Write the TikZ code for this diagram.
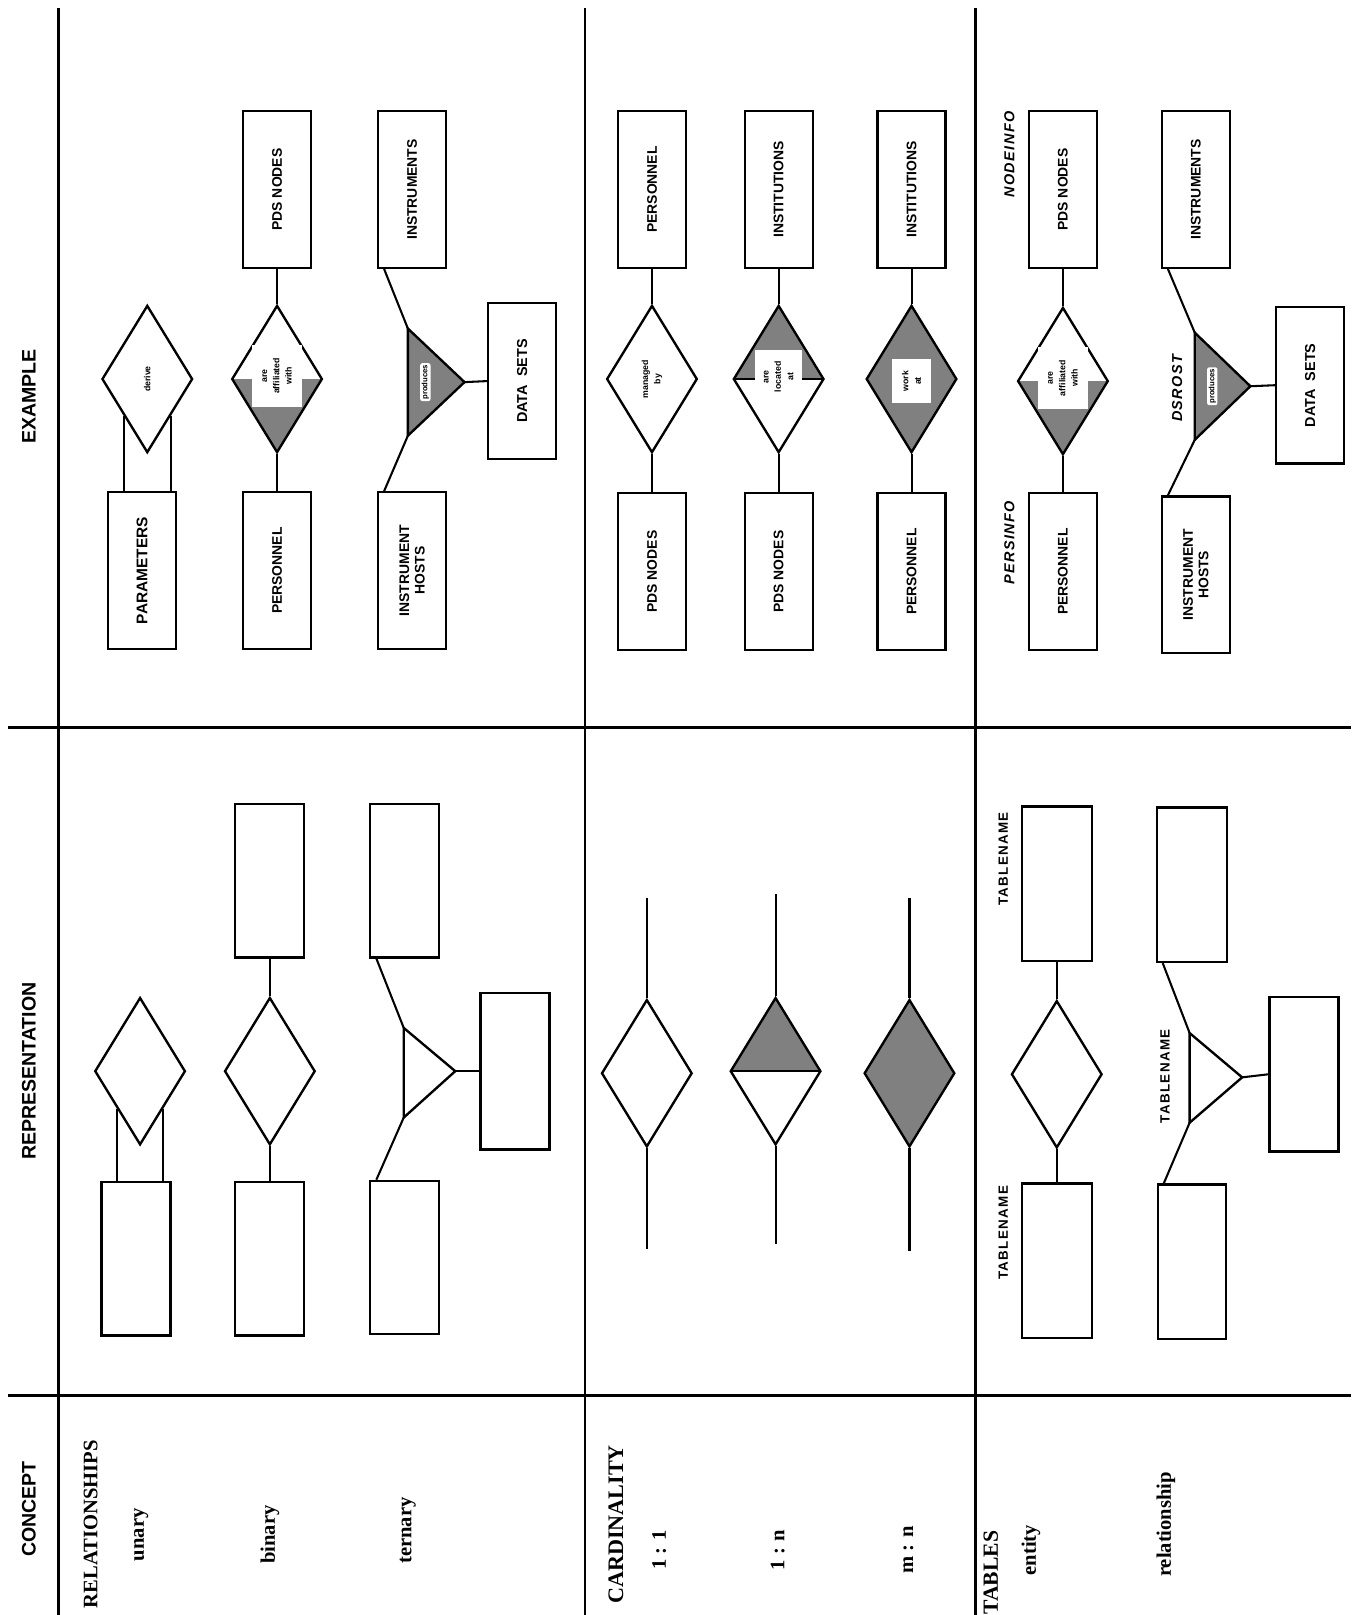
\documentclass[tikz,border=0pt]{standalone}
\usepackage{fontspec}
\setmainfont{Liberation Serif}
\newfontfamily\hvf{Liberation Sans}
\newfontfamily\hvls{Liberation Sans}[LetterSpace=10]
\usetikzlibrary{shapes.geometric,calc}
\begin{document}
\begin{tikzpicture}[x=1pt,y=-1pt,
  gridline/.style={line width=2.8pt},
  conn/.style={line width=2pt},
  outl/.style={line width=2.3pt, line join=miter},
  shd/.style={fill=black!50},
  ent/.style={draw, line width=2.2pt, fill=white, rotate=90, inner sep=0pt, align=center,
      font=\hvf\bfseries\fontsize{13.5}{15}\selectfont},
  exbox/.style={ent, minimum width=152pt, minimum height=66pt},
  repbox/.style={ent, minimum width=149pt, minimum height=67pt},
  rel/.style={draw, diamond, line width=2.3pt, inner sep=0pt, minimum width=88pt, minimum height=143pt},
  lowshade/.style={path picture={\fill[shd] (path picture bounding box.west) -- (path picture bounding box.south) -- (path picture bounding box.east) -- cycle;}},
  upshade/.style={path picture={\fill[shd] (path picture bounding box.west) -- (path picture bounding box.north) -- (path picture bounding box.east) -- cycle;
      \draw[line width=2.2pt] (path picture bounding box.west) -- (path picture bounding box.east);}},
  fullshade/.style={fill=black!50},
  rlbl/.style={rotate=90, inner sep=2pt, align=center, font=\hvf\bfseries\fontsize{8.5}{12}\selectfont},
  wlbl/.style={rlbl, fill=white},
  prodlbl/.style={rlbl, fill=white, rounded corners=2pt, inner sep=1.5pt, font=\hvf\bfseries\fontsize{7.5}{8}\selectfont},
  head/.style={rotate=90, inner sep=0pt, font=\hvf\bfseries\fontsize{19}{21}\selectfont},
  concept/.style={rotate=90, inner sep=0pt, font=\bfseries\fontsize{20}{22}\selectfont},
  tname/.style={rotate=90, inner sep=0pt, font=\hvls\bfseries\fontsize{13}{15}\selectfont},
  iname/.style={rotate=90, inner sep=0pt, font=\hvls\bfseries\itshape\fontsize{14}{16}\selectfont},
]
\useasboundingbox (0,0) rectangle (1315,1568);
\fill[white] (0,0) rectangle (1315,1568);

% grid
\draw[gridline] (57,8) -- (57,1568);
\draw[gridline] (568,8) -- (568,1568);
\draw[gridline] (947,8) -- (947,1568);
\draw[gridline] (8,706) -- (1312,706);
\draw[gridline] (8,1355) -- (1312,1355);

% headers
\node[head] (hEx) at (28,385) {EXAMPLE};
\node[head] (hRep) at (28,1040) {REPRESENTATION};
\node[head] (hCon) at (28,1465) {CONCEPT};

% concept column
\node[concept] (cRel) at (88,1480) {RELATIONSHIPS};
\node[concept] (cUn) at (137,1490) {unary};
\node[concept] (cBin) at (262,1490) {binary};
\node[concept] (cTer) at (396,1486) {ternary};
\node[concept, font=\bfseries\fontsize{21.5}{23}\selectfont] (cCard) at (598,1480) {CARDINALITY};
\node[concept] (c11l) at (640,1505) {1 : 1};
\node[concept] (c1nl) at (755,1505) {1 : n};
\node[concept] (cmnl) at (882,1505) {m : n};
\node[concept, font=\bfseries\fontsize{21}{23}\selectfont] (cTab) at (962,1527) {TABLES};
\node[concept] (cEnt) at (1001,1505) {entity};
\node[concept] (cRelship) at (1132,1480) {relationship};

% ===== EXAMPLE: relationships =====
% unary
\node[exbox, font=\hvf\bfseries\fontsize{15}{17}\selectfont] (eParam) at (138,554) {PARAMETERS};
\node[rel] (eDer) at (143,368) {};
\node[rlbl] (eDerL) at (eDer) {derive};
\draw[conn] (eDer.south west) -- (eDer.south west |- eParam.east);
\draw[conn] (eDer.south east) -- (eDer.south east |- eParam.east);
% binary
\node[exbox] (ePDS1) at (269,184) {PDS NODES};
\node[rel, lowshade] (eAff1) at (269,368) {};
\node[wlbl, minimum width=60pt, minimum height=48pt] (eAff1L) at (269,365) {are\\affiliated\\with};
\node[exbox] (ePers1) at (269,554) {PERSONNEL};
\draw[conn] (ePDS1.west) -- (eAff1.north);
\draw[conn] (eAff1.south) -- (ePers1.east);
% ternary
\node[exbox] (eInst1) at (400,184) {INSTRUMENTS};
\node[exbox] (eHosts1) at (400,554) {INSTRUMENT\\HOSTS};
\node[ent, minimum width=151pt, minimum height=66pt, font=\hvf\bfseries\fontsize{14}{16}\selectfont] (eData1) at (507,370) {DATA\ \ SETS};
\coordinate (eT1a) at (396,319);
\coordinate (eT1b) at (396,423);
\coordinate (eT1c) at (451,371);
\filldraw[outl, shd] (eT1a) -- (eT1c) -- (eT1b) -- cycle;
\node[prodlbl] (eProd1) at (413,371) {produces};
\draw[conn] ($(eInst1.north west)+(7,0)$) -- (eT1a);
\draw[conn] (eT1b) -- ($(eHosts1.north east)+(7,0)$);
\draw[conn] (eT1c) -- (eData1.north);

% ===== EXAMPLE: cardinality =====
\node[exbox] (ePers2) at (633,184) {PERSONNEL};
\node[rel] (eMgr) at (633,368) {};
\node[rlbl] (eMgrL) at (eMgr) {managed\\by};
\node[exbox] (ePDS2) at (633,555) {PDS NODES};
\draw[conn] (ePers2.west) -- (eMgr.north);
\draw[conn] (eMgr.south) -- (ePDS2.east);

\node[exbox] (eInstit1) at (756,184) {INSTITUTIONS};
\node[rel, upshade] (eLoc) at (756,368) {};
\node[wlbl, minimum width=52pt, minimum height=46pt] (eLocL) at (756,366) {are\\located\\at};
\node[exbox] (ePDS3) at (756,555) {PDS NODES};
\draw[conn] (eInstit1.west) -- (eLoc.north);
\draw[conn] (eLoc.south) -- (ePDS3.east);

\node[exbox] (eInstit2) at (885,184) {INSTITUTIONS};
\node[rel, fullshade] (eWork) at (885,368) {};
\node[wlbl, minimum width=42pt, minimum height=38pt] (eWorkL) at (885,370) {work\\at};
\node[exbox] (ePers3) at (885,555) {PERSONNEL};
\draw[conn] (eInstit2.west) -- (eWork.north);
\draw[conn] (eWork.south) -- (ePers3.east);

% ===== EXAMPLE: tables =====
\node[iname] (eNodeInfo) at (980,150) {NODEINFO};
\node[iname] (ePersInfo) at (980,527) {PERSINFO};
\node[exbox] (ePDS4) at (1032,184) {PDS NODES};
\node[rel, lowshade] (eAff2) at (1032,370) {};
\node[wlbl, minimum width=60pt, minimum height=48pt] (eAff2L) at (1032,367) {are\\affiliated\\with};
\node[exbox] (ePers4) at (1032,555) {PERSONNEL};
\draw[conn] (ePDS4.west) -- (eAff2.north);
\draw[conn] (eAff2.south) -- (ePers4.east);

\node[exbox] (eInst2) at (1161,184) {INSTRUMENTS};
\node[exbox] (eHosts2) at (1161,558) {INSTRUMENT\\HOSTS};
\node[ent, minimum width=152pt, minimum height=66pt, font=\hvf\bfseries\fontsize{14}{16}\selectfont] (eData2) at (1272,374) {DATA\ \ SETS};
\coordinate (eT2a) at (1160,323);
\coordinate (eT2b) at (1160,427);
\coordinate (eT2c) at (1214,375);
\filldraw[outl, shd] (eT2a) -- (eT2c) -- (eT2b) -- cycle;
\node[prodlbl] (eProd2) at (1177,375) {produces};
\node[iname] (eDsrost) at (1143,377) {DSROST};
\draw[conn] ($(eInst2.north west)+(7,0)$) -- (eT2a);
\draw[conn] (eT2b) -- ($(eHosts2.north east)+(7,0)$);
\draw[conn] (eT2c) -- (eData2.north);

% ===== REPRESENTATION: relationships =====
\node[repbox] (rUnE) at (132,1222) {};
\node[rel] (rUnD) at (136,1040) {};
\draw[conn] (rUnD.south west) -- (rUnD.south west |- rUnE.east);
\draw[conn] (rUnD.south east) -- (rUnD.south east |- rUnE.east);

\node[repbox] (rBinT) at (262,855) {};
\node[rel] (rBinD) at (262,1040) {};
\node[repbox] (rBinB) at (262,1222) {};
\draw[conn] (rBinT.west) -- (rBinD.north);
\draw[conn] (rBinD.south) -- (rBinB.east);

\node[repbox] (rTerT) at (393,855) {};
\node[repbox] (rTerB) at (393,1221) {};
\node[ent, minimum width=152pt, minimum height=67pt] (rTerData) at (500,1040) {};
\coordinate (rT1a) at (392,998);
\coordinate (rT1b) at (392,1085);
\coordinate (rT1c) at (442,1040);
\draw[outl] (rT1a) -- (rT1c) -- (rT1b) -- cycle;
\draw[conn] ($(rTerT.north west)+(7,0)$) -- (rT1a);
\draw[conn] (rT1b) -- ($(rTerB.north east)+(7,0)$);
\draw[conn] (rT1c) -- (rTerData.north);

% ===== REPRESENTATION: cardinality =====
\node[rel] (c11) at (628,1042) {};
\coordinate (c11t) at (628,872);
\coordinate (c11b) at (628,1213);
\draw[conn] (c11t) -- (c11.north);
\draw[conn] (c11.south) -- (c11b);

\node[rel, upshade] (c1n) at (753,1040) {};
\coordinate (c1nt) at (753,868);
\coordinate (c1nb) at (753,1208);
\draw[conn] (c1nt) -- (c1n.north);
\draw[conn] (c1n.south) -- (c1nb);

\node[rel, fullshade] (cmn) at (883,1042) {};
\coordinate (cmnt) at (883,872);
\coordinate (cmnb) at (883,1215);
\draw[conn] (cmnt) -- (cmn.north);
\draw[conn] (cmn.south) -- (cmnb);

% ===== REPRESENTATION: tables =====
\node[tname] (tN1) at (974,834) {TABLENAME};
\node[tname] (tN2) at (974,1197) {TABLENAME};
\node[ent, minimum width=150pt, minimum height=68pt] (tEntT) at (1026,858) {};
\node[rel] (tEntD) at (1026,1043) {};
\node[ent, minimum width=150pt, minimum height=68pt] (tEntB) at (1026,1224) {};
\draw[conn] (tEntT.west) -- (tEntD.north);
\draw[conn] (tEntD.south) -- (tEntB.east);

\node[ent, minimum width=150pt, minimum height=68pt] (tRelT) at (1157,859) {};
\node[ent, minimum width=150pt, minimum height=66pt] (tRelB) at (1157,1225) {};
\node[ent, minimum width=150pt, minimum height=67pt] (tRelData) at (1266,1043) {};
\coordinate (tTa) at (1155,1003);
\coordinate (tTb) at (1155,1090);
\coordinate (tTc) at (1206,1046);
\draw[outl] (tTa) -- (tTc) -- (tTb) -- cycle;
\node[tname] (tN3) at (1131,1045) {TABLENAME};
\draw[conn] ($(tRelT.north west)+(7,0)$) -- (tTa);
\draw[conn] (tTb) -- ($(tRelB.north east)+(7,0)$);
\draw[conn] (tTc) -- (tRelData.north);
\end{tikzpicture}
\end{document}
